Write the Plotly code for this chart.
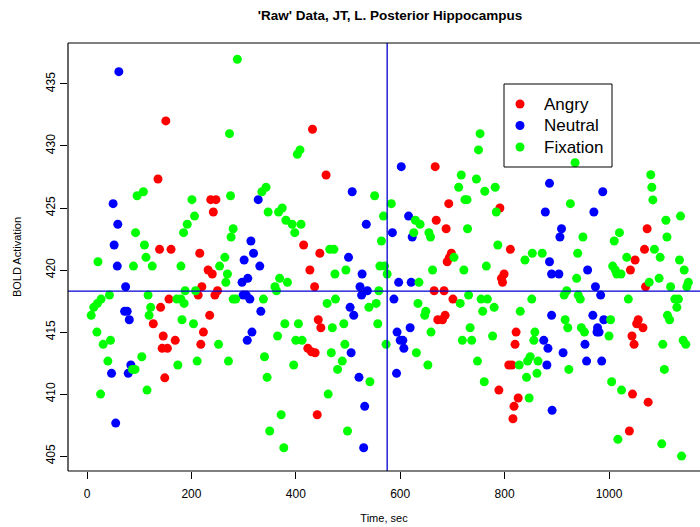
import plotly.graph_objects as go

# Time (sec) and BOLD activation per condition
angry_t = [151, 136, 237, 247, 242, 139, 161, 216,
           232, 240, 220, 213, 250, 245, 157, 141, 127, 235,
           146, 169, 223, 144, 154, 218, 149,
           432, 458, 415, 446,
           427, 436, 443, 448, 423, 430, 437, 441,
           667, 693, 791, 669, 688, 811, 698,
           694, 690, 794, 799, 796, 665, 684, 701, 672, 681, 686, 822, 820, 808, 814, 789, 826, 818, 816,
           1073, 1068, 1050,
           1041, 1070, 1056, 1053, 1065, 1044, 1048, 1045, 1075, 1039]
angry_v = [432.02, 427.34, 425.67, 425.67, 424.68, 421.67, 421.67, 421.35,
           420.0, 419.68, 418.65, 417.98, 418.33, 417.98, 417.66, 416.99, 415.67, 416.35,
           414.68, 414.33, 415.0, 413.69, 413.69, 414.01, 411.31,
           431.35, 427.66, 422.02, 421.35,
           420.0, 418.65, 415.99, 415.35, 413.69, 413.41, 413.33, 408.33,
           428.33, 425.35, 425.0, 424.01, 423.33, 421.67, 421.35,
           420.99, 420.67, 419.33, 419.68, 419.01, 418.33, 418.33, 417.66, 415.99, 415.99, 416.35, 415.0, 414.01, 412.34, 412.34, 410.32, 409.68, 409.01, 408.01,
           423.33, 421.67, 420.81,
           420.0, 418.65, 415.99, 415.67, 415.35, 414.68, 414.01, 410.0, 409.35, 407.02]

neutral_t = [61, 50, 59, 52,
             58, 74, 72, 77, 81, 84, 47, 79, 55,
             328, 508, 535, 585, 314, 319, 501, 301,
             331, 527, 308, 297, 523, 537, 526, 299, 305, 312, 504, 511, 333, 316, 307, 506, 521, 532, 530,
             602, 886, 878, 616, 623,
             886, 890, 597, 621, 588, 890, 619, 594, 600, 605, 607, 875, 883, 881, 593, 891,
             988, 971, 909, 906,
             904, 959, 974, 984, 969, 990, 978, 977, 981, 954, 912, 957, 986]
neutral_v = [435.99, 425.35, 423.69, 422.02,
             420.32, 418.65, 416.67, 416.67, 415.99, 412.34, 411.67, 411.67, 407.66,
             425.67, 426.31, 423.69, 423.01, 422.34, 421.35, 421.02, 420.81,
             420.32, 419.68, 419.33, 419.01, 418.65, 418.33, 417.98, 417.98, 417.98, 417.66, 416.99, 416.35, 416.67, 415.0, 414.33, 413.33, 411.35, 409.01, 405.67,
             428.33, 426.99, 424.68, 424.35, 422.66,
             420.67, 419.68, 419.01, 419.01, 417.66, 416.35, 415.35, 415.0, 414.33, 414.33, 413.69, 414.33, 413.69, 412.34, 411.67, 408.69,
             426.31, 424.68, 423.33, 422.66,
             419.68, 420.0, 418.65, 417.98, 416.35, 415.99, 415.35, 415.0, 415.0, 414.01, 413.33, 412.66, 412.66]

fixation_t = [273, 96, 108, 201, 275, 206, 192, 185, 93, 280, 276, 110, 113, 264, 21,
              89, 125, 180, 254, 269, 266, 43, 117, 188, 208, 27, 20, 13, 8, 172, 180, 186, 122, 119, 182, 204, 280, 19, 31, 45, 252, 105, 40, 211, 271, 174, 87, 92, 115, 26,
              288, 408, 403, 343, 335, 551, 583, 347, 374, 367, 381, 393, 410, 398, 568, 564, 465, 473,
              475, 496, 561, 570, 575, 369, 384, 360, 363, 559, 285, 338, 460, 476, 540, 554, 379, 405, 470, 492, 557, 365, 400, 412, 494, 573, 468, 340, 396, 489, 480, 345, 542, 462, 372, 350, 499, 377,
              753, 750, 717, 746, 712, 762, 782, 724, 728, 784, 629, 638, 729, 626, 655, 658, 787, 853, 872, 703, 839,
              662, 722, 765, 636, 731, 755, 767, 780, 758, 852, 634, 715, 649, 647, 830, 659, 734, 719, 737, 777, 858, 856, 631, 653, 748, 828, 844, 849, 864, 842, 862, 761, 847,
              935, 926, 1080, 1082, 1084, 1137, 1109, 1111, 950, 1020, 1010, 1087, 940, 1034, 1098, 1135,
              938, 1007, 1012, 1015, 1023, 1077, 1096, 1118, 1144, 1152, 1149, 919, 914, 941, 945, 1037, 1126, 1133, 1130, 1112, 1116, 1003, 916, 921, 947, 953, 1000, 1103, 1142, 1147, 923, 1106, 1005, 1024, 1017, 1101, 1139]
fixation_v = [430.99, 425.99, 426.31, 425.67, 425.99, 424.35, 423.69, 423.01, 423.01, 423.33, 422.66, 422.02, 421.02, 421.02, 420.67,
              420.32, 420.32, 420.32, 420.32, 419.68, 419.01, 417.98, 417.98, 418.33, 418.33, 417.66, 417.31, 416.99, 416.35, 417.66, 417.66, 417.31, 416.99, 416.35, 415.99, 415.67, 417.66, 415.0, 414.01, 414.33, 414.01, 413.01, 412.66, 412.66, 412.66, 412.34, 411.99, 411.99, 410.32, 410.0,
              436.99, 429.68, 429.33, 426.67, 426.31, 425.99, 425.35, 424.68, 425.0, 424.68, 424.01, 423.69, 423.69, 423.01, 424.35, 422.34, 421.67, 421.67,
              419.68, 420.0, 420.32, 420.32, 419.68, 419.33, 419.01, 418.65, 418.33, 418.33, 417.66, 417.66, 417.31, 417.66, 416.99, 417.31, 415.67, 415.67, 415.35, 415.67, 415.67, 414.68, 414.33, 414.33, 414.01, 414.01, 413.33, 413.01, 412.34, 412.66, 411.99, 411.35, 410.99, 410.0, 408.33, 407.02, 407.02, 405.67,
              430.99, 429.68, 427.66, 427.34, 426.67, 426.35, 426.67, 425.67, 425.67, 424.68, 424.01, 423.69, 423.33, 423.01, 423.01, 422.66, 422.02, 421.35, 421.35, 421.02, 420.81,
              420.0, 420.0, 420.32, 419.01, 417.98, 417.66, 417.66, 416.99, 416.67, 417.66, 417.31, 417.31, 416.67, 416.35, 416.67, 415.0, 415.35, 414.33, 414.33, 414.68, 415.0, 414.33, 413.33, 412.34, 412.66, 412.34, 412.66, 413.01, 412.66, 411.35, 411.67, 410.99, 409.68,
              428.65, 425.35, 427.68, 426.67, 425.65, 424.35, 424.01, 422.66, 422.66, 423.01, 422.34, 421.67, 421.35, 421.02, 421.02, 420.81,
              419.33, 420.32, 420.0, 419.68, 419.68, 419.01, 419.33, 418.65, 420.0, 419.01, 418.65, 418.33, 417.98, 417.98, 417.66, 417.66, 417.66, 417.66, 416.99, 416.35, 415.99, 415.99, 415.99, 415.35, 415.35, 415.0, 414.68, 414.01, 414.33, 414.01, 411.99, 411.99, 410.99, 410.32, 406.35, 405.99, 405.0]

x_ticks = [0, 200, 400, 600, 800, 1000]
y_ticks = [405, 410, 415, 420, 425, 430, 435]

# Reference lines: block split time and mean activation
split_time = 575
mean_activation = 418.3

FONT = "Liberation Sans, Arial, Helvetica, sans-serif"

series = [("Angry", angry_t, angry_v, "#FF0000"),
          ("Neutral", neutral_t, neutral_v, "#0000FF"),
          ("Fixation", fixation_t, fixation_v, "#00FF00")]

fig = go.Figure()
for name, xs, ys, col in series:
    fig.add_trace(go.Scatter(x=xs, y=ys, mode="markers", name=name, showlegend=False,
                             marker=dict(color=col, size=9, line=dict(width=0))))

# vertical and horizontal reference lines
fig.add_shape(type="line", xref="x", yref="paper", x0=split_time, x1=split_time,
              y0=0, y1=1, line=dict(color="#0000D0", width=1.3), layer="above")
fig.add_shape(type="line", xref="paper", yref="y", x0=0, x1=1,
              y0=mean_activation, y1=mean_activation,
              line=dict(color="#0000D0", width=1.3), layer="above")

# frame: top, left and bottom edges
for x0, y0, x1, y1 in [(0, 1, 1, 1), (0, 0, 0, 1), (0, 0, 1, 0)]:
    fig.add_shape(type="line", xref="paper", yref="paper", x0=x0, y0=y0, x1=x1, y1=y1,
                  line=dict(color="#000000", width=1.2), layer="above")

# key box in the upper right, positioned in plot-area fractions
PLOT_L, PLOT_T, PLOT_W, PLOT_H = 68, 43, 632, 428


def px_x(p):
    return (p - PLOT_L) / PLOT_W


def px_y(p):
    return (PLOT_T + PLOT_H - p) / PLOT_H


fig.add_shape(type="rect", xref="paper", yref="paper",
              x0=px_x(504), x1=px_x(612), y0=px_y(167), y1=px_y(84),
              line=dict(color="#000000", width=1), fillcolor="rgba(0,0,0,0)", layer="above")
for i, (name, _, _, col) in enumerate(series):
    row_y = px_y(104 + 21.5 * i)
    fig.add_shape(type="circle", xref="paper", yref="paper",
                  xsizemode="pixel", ysizemode="pixel",
                  xanchor=px_x(520), yanchor=row_y, x0=-4.5, x1=4.5, y0=-4.5, y1=4.5,
                  fillcolor=col, line=dict(width=0), layer="above")
    fig.add_annotation(x=px_x(542), y=row_y, xref="paper", yref="paper",
                       xanchor="left", yanchor="middle", text=name, showarrow=False,
                       font=dict(size=17, family=FONT, color="#000000"))

fig.update_layout(
    width=700, height=527,
    margin=dict(l=PLOT_L, r=0, t=PLOT_T, b=527 - PLOT_T - PLOT_H),
    paper_bgcolor="white", plot_bgcolor="white",
    font=dict(family=FONT, color="#000000"),
    title=dict(text="<b>'Raw' Data, JT, L. Posterior Hippocampus</b>",
               x=390 / 700, xanchor="center", y=1 - 15 / 527, yanchor="middle",
               font=dict(size=13.5, family=FONT, color="#000000")),
    xaxis=dict(range=[-36.4, 1174.3], tickvals=x_ticks, ticks="outside", ticklen=7,
               tickcolor="#000000", showgrid=False, zeroline=False, showline=False,
               tickfont=dict(size=12), ticklabelstandoff=5,
               title=dict(text="Time, sec", font=dict(size=11), standoff=13)),
    yaxis=dict(range=[403.8, 438.3], tickvals=y_ticks, ticks="outside", ticklen=7,
               tickcolor="#000000", showgrid=False, zeroline=False, showline=False,
               tickangle=-90, tickfont=dict(size=12),
               title=dict(text="BOLD Activation", font=dict(size=11), standoff=20)),
    showlegend=False,
)

fig.write_html("out.html")
